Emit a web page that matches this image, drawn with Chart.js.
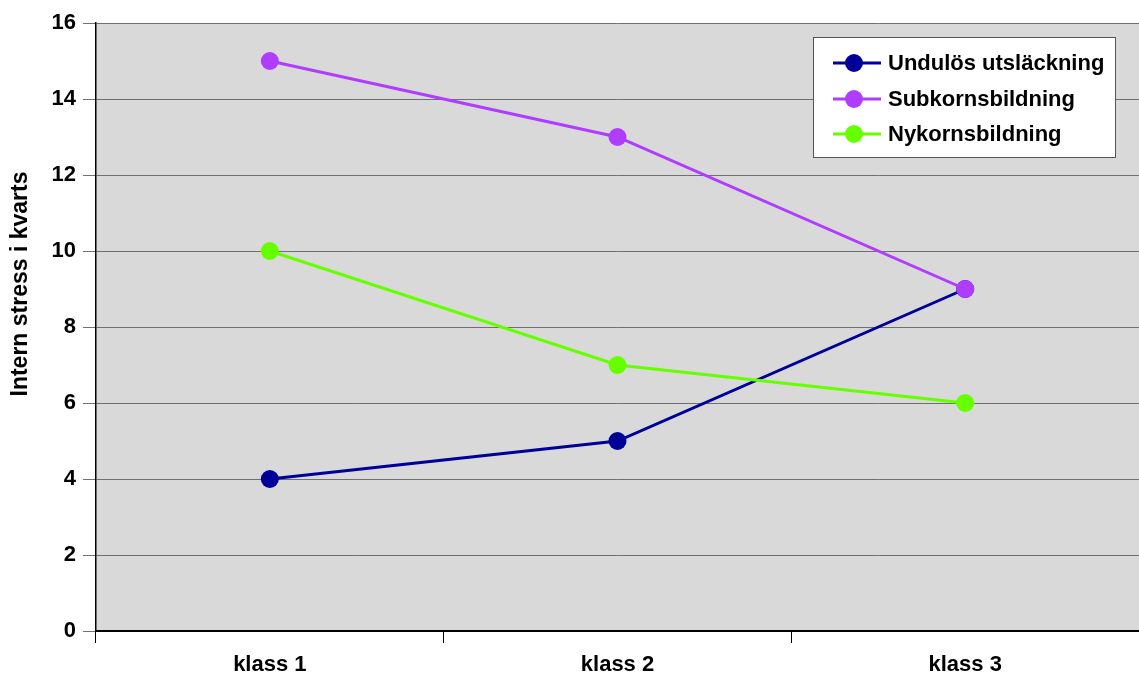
<!DOCTYPE html>
<html><head><meta charset="utf-8">
<script src="https://cdn.jsdelivr.net/npm/chart.js@4"></script>
<style>html,body{margin:0;padding:0;background:#fff}#wrap{width:1139px;height:677px}</style>
</head><body><div id="wrap"><canvas id="c" width="1139" height="677"></canvas></div>
<script>
const categories = ['klass 1', 'klass 2', 'klass 3'];
const undulos = [4, 5, 9];
const subkorn = [15, 13, 9];
const nykorn = [10, 7, 6];
const seriesNames = ['Undulös utsläckning', 'Subkornsbildning', 'Nykornsbildning'];
const seriesColors = ['#000099', '#b03cff', '#66ff00'];
const yTitle = 'Intern stress i kvarts';

const FAMILY = '"Liberation Sans", Arial, sans-serif';

const bgPlugin = {
  id: 'bg',
  beforeDraw(chart) {
    const {ctx, chartArea: a} = chart;
    ctx.save();
    ctx.fillStyle = '#d9d9d9';
    ctx.fillRect(a.left, a.top, a.right - a.left, a.bottom - a.top);
    ctx.restore();
  },
  afterDraw(chart) {
    const {ctx} = chart;
    ctx.save();
    ctx.translate(21, 284);
    ctx.rotate(-Math.PI / 2);
    ctx.font = 'bold 23px ' + FAMILY;
    ctx.fillStyle = '#000';
    ctx.textAlign = 'center';
    ctx.textBaseline = 'middle';
    ctx.fillText(yTitle, 0, 0);
    ctx.restore();
  },
  afterDatasetsDraw(chart) {
    const {ctx} = chart;
    ctx.save();
    const bx = 813.5, by = 37.5, bw = 302, bh = 120;
    ctx.fillStyle = '#ffffff';
    ctx.fillRect(bx, by, bw, bh);
    ctx.strokeStyle = '#555555';
    ctx.lineWidth = 1;
    ctx.strokeRect(bx, by, bw, bh);
    const rows = [63, 99, 134];
    ctx.font = 'bold 22px ' + FAMILY;
    ctx.textBaseline = 'middle';
    ctx.textAlign = 'left';
    for (let i = 0; i < seriesNames.length; i++) {
      const y = rows[i];
      ctx.strokeStyle = seriesColors[i];
      ctx.lineWidth = 3;
      ctx.beginPath(); ctx.moveTo(833, y); ctx.lineTo(881, y); ctx.stroke();
      ctx.fillStyle = seriesColors[i];
      ctx.beginPath(); ctx.arc(854, y, 9, 0, Math.PI * 2); ctx.fill();
      ctx.fillStyle = '#000';
      ctx.fillText(seriesNames[i], 888, y + 1);
    }
    ctx.restore();
  }
};

new Chart(document.getElementById('c'), {
  type: 'line',
  data: {
    labels: categories,
    datasets: [undulos, subkorn, nykorn].map((d, i) => ({
      label: seriesNames[i],
      data: d,
      order: 2 - i,
      borderColor: seriesColors[i],
      backgroundColor: seriesColors[i],
      borderWidth: 3,
      pointRadius: 9,
      pointHoverRadius: 9,
      pointBorderWidth: 0,
      tension: 0
    }))
  },
  options: {
    responsive: false,
    animation: false,
    events: [],
    layout: { autoPadding: false, padding: { top: 23, right: 0, left: 0, bottom: 0 } },
    plugins: { legend: { display: false }, tooltip: { enabled: false } },
    scales: {
      x: {
        offset: true,
        grid: { offset: true, drawOnChartArea: false, color: '#000', tickLength: 12, tickWidth: 1 },
        border: { color: '#000', width: 2 },
        ticks: { color: '#000', font: { family: FAMILY, size: 22, weight: 'bold' }, padding: 9 },
        afterFit(s) { s.height = 46; s.paddingLeft = 0; s.paddingRight = 0; }
      },
      y: {
        min: 0, max: 16,
        ticks: { stepSize: 2, color: '#000', font: { family: FAMILY, size: 22, weight: 'bold' }, padding: 7 },
        grid: { color: '#707070', lineWidth: 1, tickLength: 13, tickColor: '#707070' },
        border: { color: '#000', width: 1.5 },
        afterFit(s) { s.width = 96; s.paddingTop = 0; s.paddingBottom = 0; }
      }
    }
  },
  plugins: [bgPlugin]
});
</script>
</body></html>
